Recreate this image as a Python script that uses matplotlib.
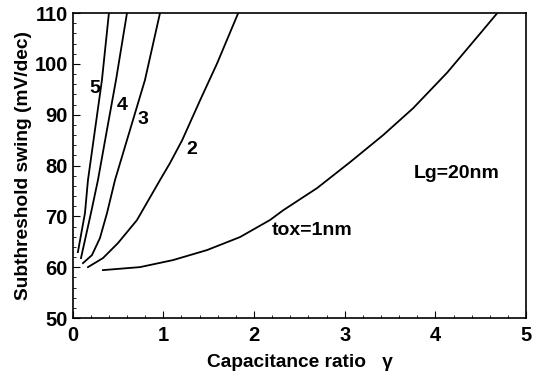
import matplotlib
matplotlib.use('Agg')
import matplotlib.pyplot as plt
from matplotlib.ticker import MultipleLocator

plt.rcParams['font.family'] = ['Liberation Sans', 'DejaVu Sans']
plt.rcParams['font.weight'] = 'bold'

# Curves (gamma, swing in mV/dec).
g_tox1 = [0.334, 0.742, 1.106, 1.481, 1.845, 2.176, 2.320, 2.695, 3.059, 3.423,
          3.754, 4.129, 4.493, 4.681]
s_tox1 = [59.44, 60.03, 61.41, 63.38, 65.94, 69.3, 71.2, 75.58, 80.69, 86.0,
          91.3, 98.3, 106.0, 110.0]
g_tox2 = [0.169, 0.334, 0.500, 0.709, 0.963, 1.073, 1.208, 1.406, 1.594, 1.825]
s_tox2 = [60.03, 61.80, 64.76, 69.28, 77.15, 80.49, 85.02, 92.89, 100.17, 110.0]
g_tox3 = [0.114, 0.213, 0.301, 0.379, 0.467, 0.632, 0.797, 0.963]
s_tox3 = [60.82, 62.39, 65.74, 70.66, 77.15, 86.99, 96.82, 110.0]
g_tox4 = [0.092, 0.202, 0.279, 0.378, 0.478, 0.599]
s_tox4 = [61.80, 70.66, 77.15, 86.99, 96.82, 110.0]
g_tox5 = [0.058, 0.136, 0.169, 0.246, 0.323, 0.400]
s_tox5 = [62.98, 70.66, 77.15, 86.99, 96.82, 110.0]

labels = ['tox=1nm', '2', '3', '4', '5']
label_x = [2.64, 1.316, 0.775, 0.544, 0.246]
label_y = [67.3, 83.25, 89.15, 91.9, 95.25]

fig = plt.figure(figsize=(5.38, 3.76), dpi=100)
ax = fig.add_axes([0.135, 0.154, 0.843, 0.811])

for g, s in [(g_tox1, s_tox1), (g_tox2, s_tox2), (g_tox3, s_tox3),
             (g_tox4, s_tox4), (g_tox5, s_tox5)]:
    ax.plot(g, s, color='black', lw=1.3)

for t, x, y in zip(labels, label_x, label_y):
    ax.text(x, y, t, fontsize=14, fontweight='bold', ha='center', va='center')
ax.text(4.23, 78.5, 'Lg=20nm', fontsize=14, fontweight='bold', ha='center', va='center')

ax.set_xlim(0, 5)
ax.set_ylim(50, 110)
ax.xaxis.set_major_locator(MultipleLocator(1))
ax.xaxis.set_minor_locator(MultipleLocator(0.2))
ax.yaxis.set_major_locator(MultipleLocator(10))
ax.yaxis.set_minor_locator(MultipleLocator(2))
ax.tick_params(which='both', direction='in', top=False, right=False, labelsize=14.5)
ax.tick_params(axis='x', which='major', pad=6)
ax.tick_params(which='major', length=5)
ax.tick_params(which='minor', length=2.5)
for sp in ax.spines.values():
    sp.set_linewidth(1.2)

ax.set_xlabel('Capacitance ratio   \u03b3', fontsize=13.8, fontweight='bold', labelpad=6)
ax.set_ylabel('Subthreshold swing (mV/dec)', fontsize=13.8, fontweight='bold', labelpad=2)

fig.savefig('out.png', dpi=100)
